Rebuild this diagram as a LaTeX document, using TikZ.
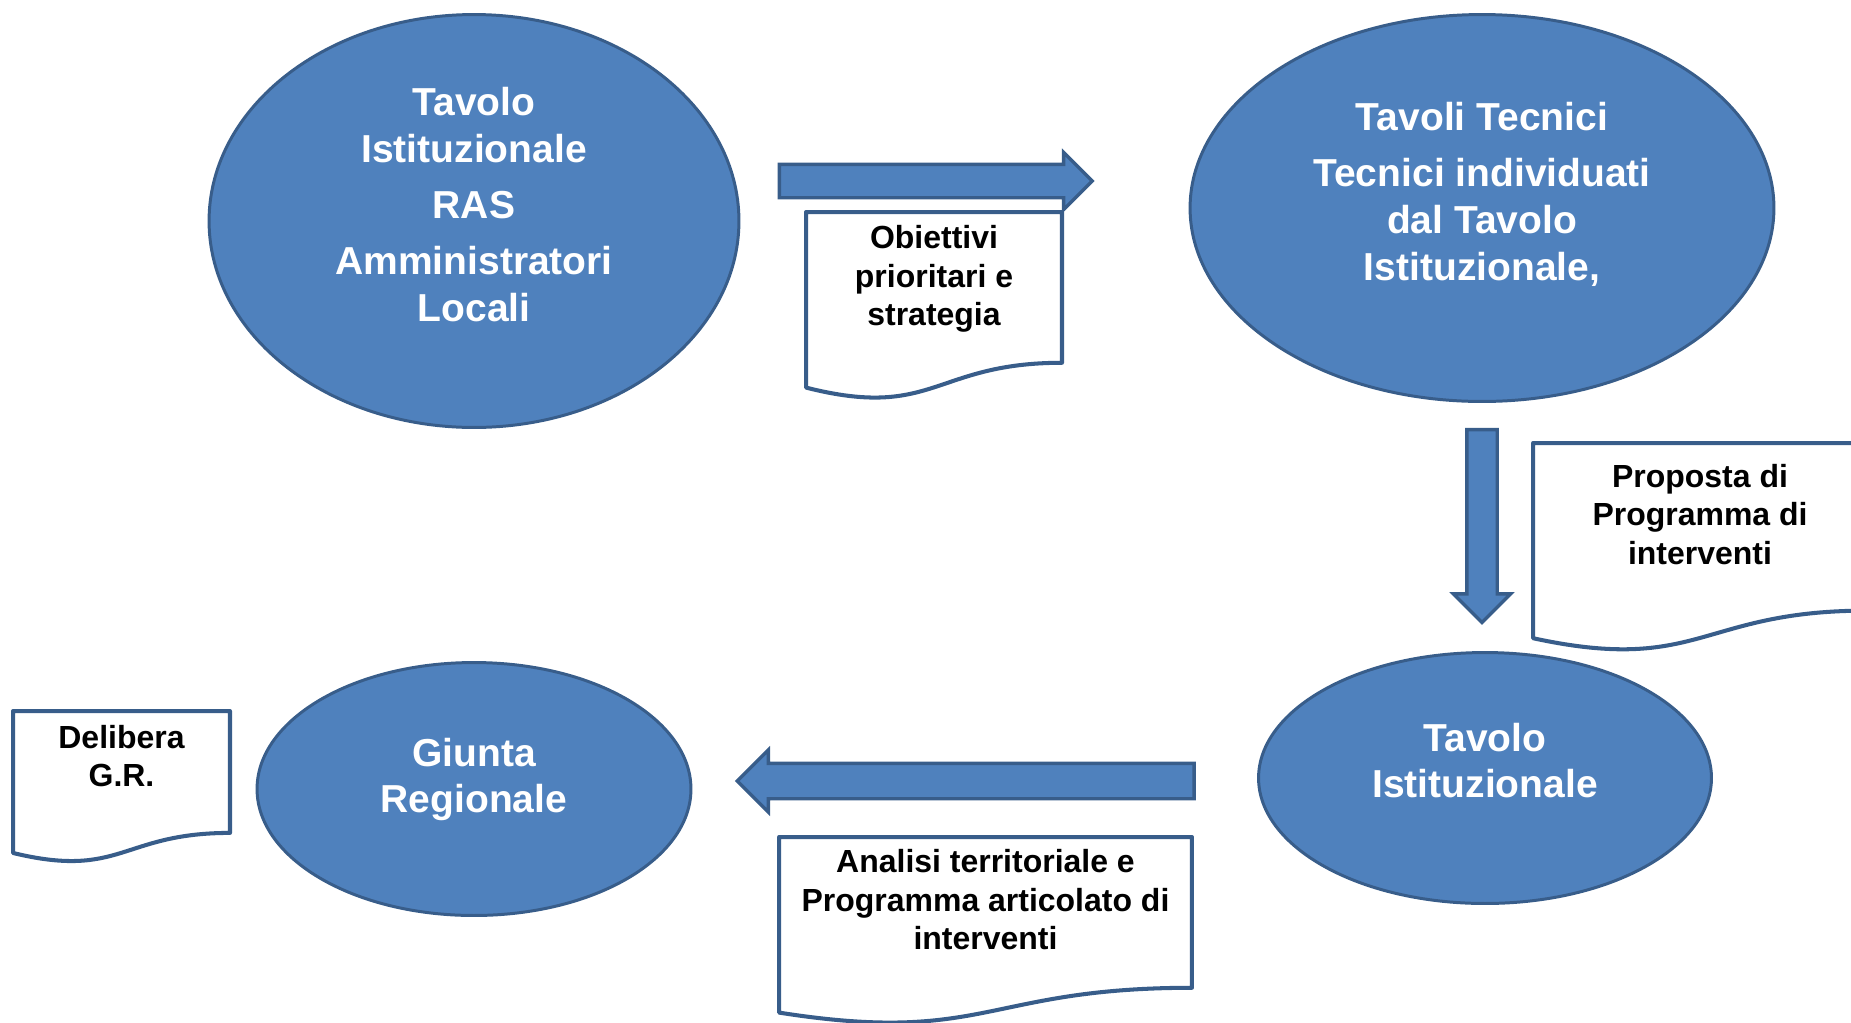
\documentclass[tikz,border=0pt]{standalone}
\usepackage{fontspec}
\setmainfont{Liberation Sans}
\usetikzlibrary{calc,positioning,shapes.geometric,shapes.arrows}
\definecolor{rasblue}{HTML}{4F81BD}
\definecolor{rasedge}{HTML}{385D8A}
\tikzset{
  organ/.style={ellipse, draw=rasedge, fill=rasblue, line width=1.7pt, inner sep=0pt},
  organtext/.style={text=white, font=\bfseries\fontsize{22.2pt}{26.7pt}\selectfont, align=center, inner sep=0pt},
  doc/.style={inner sep=0pt, outer sep=0pt},
  docline/.style={draw=rasedge, fill=white, line width=2.3pt, line join=round},
  doctext/.style={font=\bfseries\fontsize{18.2pt}{21.9pt}\selectfont, align=center, inner sep=0pt},
  flusso/.style={single arrow, draw=rasedge, fill=rasblue, line width=1.9pt, single arrow head indent=0pt}
}
% outline of a document with wavy bottom
\newcommand{\docborder}[1]{%
  \draw[docline] (#1.north west) -- (#1.north east)
    -- ($(#1.north east)!0.802!(#1.south east)$)
    .. controls ($(#1.north)!0.802!(#1.south)$) and ($(#1.north)!1.107!(#1.south)$)
    .. ($(#1.north west)!0.934!(#1.south west)$) -- cycle;}

\begin{document}
\begin{tikzpicture}[x=0.02cm, y=-0.02cm]
  \useasboundingbox (0,0) rectangle (1851,1022);
  \clip (0,0) rectangle (1851,1022);

  % the four bodies
  \node[organ, minimum width=10.6cm, minimum height=8.26cm] (tavolo) at (474,221) {};
  \node[organ, minimum width=11.68cm, minimum height=7.74cm] (tecnici) at (1482,208) {};
  \node[organ, minimum width=9.06cm, minimum height=5.02cm] (istit) at (1485,778) {};
  \node[organ, minimum width=8.68cm, minimum height=5.06cm] (giunta) at (474,789) {};

  \node[organtext] (tavolo-t) at ([yshift=0.33cm]tavolo.center)
    {Tavolo\\Istituzionale\\[0.18cm]RAS\\[0.18cm]Amministratori\\Locali};
  \node[organtext] (tecnici-t) at ([yshift=0.27cm]tecnici.center)
    {Tavoli Tecnici\\[0.18cm]Tecnici individuati\\dal Tavolo\\Istituzionale,};
  \node[organtext] (istit-t) at ([yshift=0.35cm]istit.center) {Tavolo\\Istituzionale};
  \node[organtext] (giunta-t) at ([yshift=0.19cm]giunta.center) {Giunta\\Regionale};

  % block arrows
  \node[flusso, inner sep=0.3cm, minimum height=6.26cm, single arrow head extend=0.24cm] (f1) at (927.5,181) {};
  \node[flusso, shape border rotate=270, inner sep=0.27cm, minimum height=3.86cm, single arrow head extend=0.27cm] (f2) at (1482,518.5) {};
  \node[flusso, shape border rotate=180, inner sep=0.32cm, minimum height=9.14cm, single arrow head extend=0.27cm] (f3) at (974.5,781) {};

  % documents
  \node[doc, minimum width=5.12cm, minimum height=3.76cm] (obiettivi) at (934,306) {};
  \docborder{obiettivi}
  \node[doctext] (obiettivi-t) at ([yshift=0.54cm]obiettivi.center) {Obiettivi\\prioritari e\\strategia};

  \node[doc, minimum width=6.68cm, minimum height=4.18cm] (proposta) at (1700,547.5) {};
  \docborder{proposta}
  \node[doctext] (proposta-t) at ([yshift=0.66cm]proposta.center) {Proposta di\\Programma di\\interventi};

  \node[doc, minimum width=4.34cm, minimum height=3.04cm] (delibera) at (121.5,787) {};
  \docborder{delibera}
  \node[doctext] (delibera-t) at ([yshift=0.62cm]delibera.center) {Delibera\\G.R.};

  \node[doc, minimum width=8.26cm, minimum height=3.76cm] (analisi) at (985.5,931) {};
  \docborder{analisi}
  \node[doctext] (analisi-t) at ([yshift=0.62cm]analisi.center) {Analisi territoriale e\\Programma articolato di\\interventi};
\end{tikzpicture}
\end{document}
